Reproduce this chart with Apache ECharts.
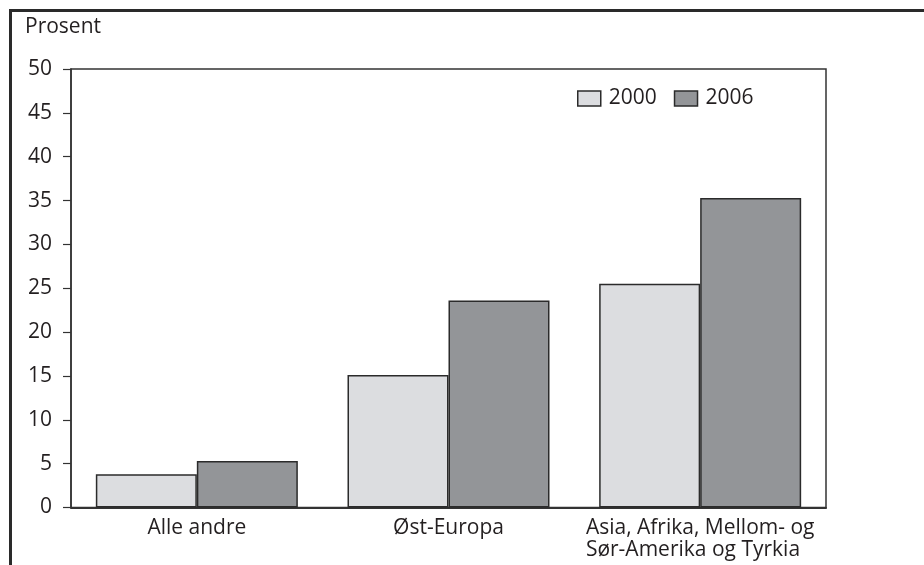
<!DOCTYPE html>
<html>
<head>
<meta charset="utf-8">
<script src="https://cdn.jsdelivr.net/npm/echarts@6/dist/echarts.min.js"></script>
<style>html,body{margin:0;padding:0;background:#fff;}#c{width:924px;height:565px;}</style>
</head>
<body>
<div id="c"></div>
<script>
var categories = ['Alle andre', 'Øst-Europa', 'Asia, Afrika, Mellom- og\nSør-Amerika og Tyrkia'];
var seriesNames = ['2000', '2006'];
var values2000 = [3.8, 15.1, 25.5];
var values2006 = [5.3, 23.6, 35.3];
var yTicks = [0, 5, 10, 15, 20, 25, 30, 35, 40, 45, 50];
var yLabel = 'Prosent';

var FONT = '"Open Sans", "DejaVu Sans", sans-serif';
var FS = 21;
var TXT = '#231f20';
var chart = echarts.init(document.getElementById('c'), null, {renderer: 'canvas'});
chart.setOption({
  animation: false,
  backgroundColor: '#fff',
  textStyle: {fontFamily: FONT, color: TXT},
  graphic: [
    {type: 'rect', shape: {x: 10.5, y: 10.5, width: 2000, height: 2000},
     style: {fill: 'none', stroke: '#2a2a2a', lineWidth: 3}, z: 10},
    {type: 'text', left: 25, top: 17,
     style: {text: yLabel, font: FS + 'px ' + FONT, fill: TXT}}
  ],
  legend: {
    data: seriesNames,
    left: 577, top: 88,
    padding: 0,
    itemWidth: 23, itemHeight: 15, itemGap: 17,
    icon: 'rect',
    itemStyle: {borderColor: '#2b2b2b', borderWidth: 1.5},
    textStyle: {fontFamily: FONT, fontSize: FS, color: TXT, padding: [0, 0, 0, 3]}
  },
  grid: {left: 71, right: 98, top: 69, bottom: 57.5, show: true,
         borderColor: '#333', borderWidth: 1.5, backgroundColor: 'transparent'},
  xAxis: {
    type: 'category',
    data: categories,
    axisLine: {lineStyle: {color: '#333', width: 2}},
    axisTick: {show: false},
    axisLabel: {
      fontFamily: FONT, fontSize: FS, color: TXT, margin: 10, lineHeight: 22,
      interval: 0,
      formatter: function (v) {
        return v.split('\n').map(function (s) { return '{a|' + s + '}'; }).join('\n');
      },
      rich: {a: {align: 'left', fontFamily: FONT, fontSize: FS, color: TXT, lineHeight: 22}}
    }
  },
  yAxis: {
    type: 'value',
    min: yTicks[0], max: yTicks[yTicks.length - 1], interval: 5,
    splitLine: {show: false},
    axisLine: {show: true, lineStyle: {color: '#333', width: 1.5}},
    axisTick: {show: true, length: 8, lineStyle: {color: '#333', width: 1.2}},
    axisLabel: {fontFamily: FONT, fontSize: FS, color: TXT, margin: 19}
  },
  series: [
    {name: seriesNames[0], type: 'bar', data: values2000, barWidth: 101, barGap: '0%',
     itemStyle: {color: '#dcdde0', borderColor: '#2b2b2b', borderWidth: 1.5}},
    {name: seriesNames[1], type: 'bar', data: values2006, barWidth: 101, barGap: '0%',
     itemStyle: {color: '#939598', borderColor: '#2b2b2b', borderWidth: 1.5}}
  ]
});
</script>
</body>
</html>
